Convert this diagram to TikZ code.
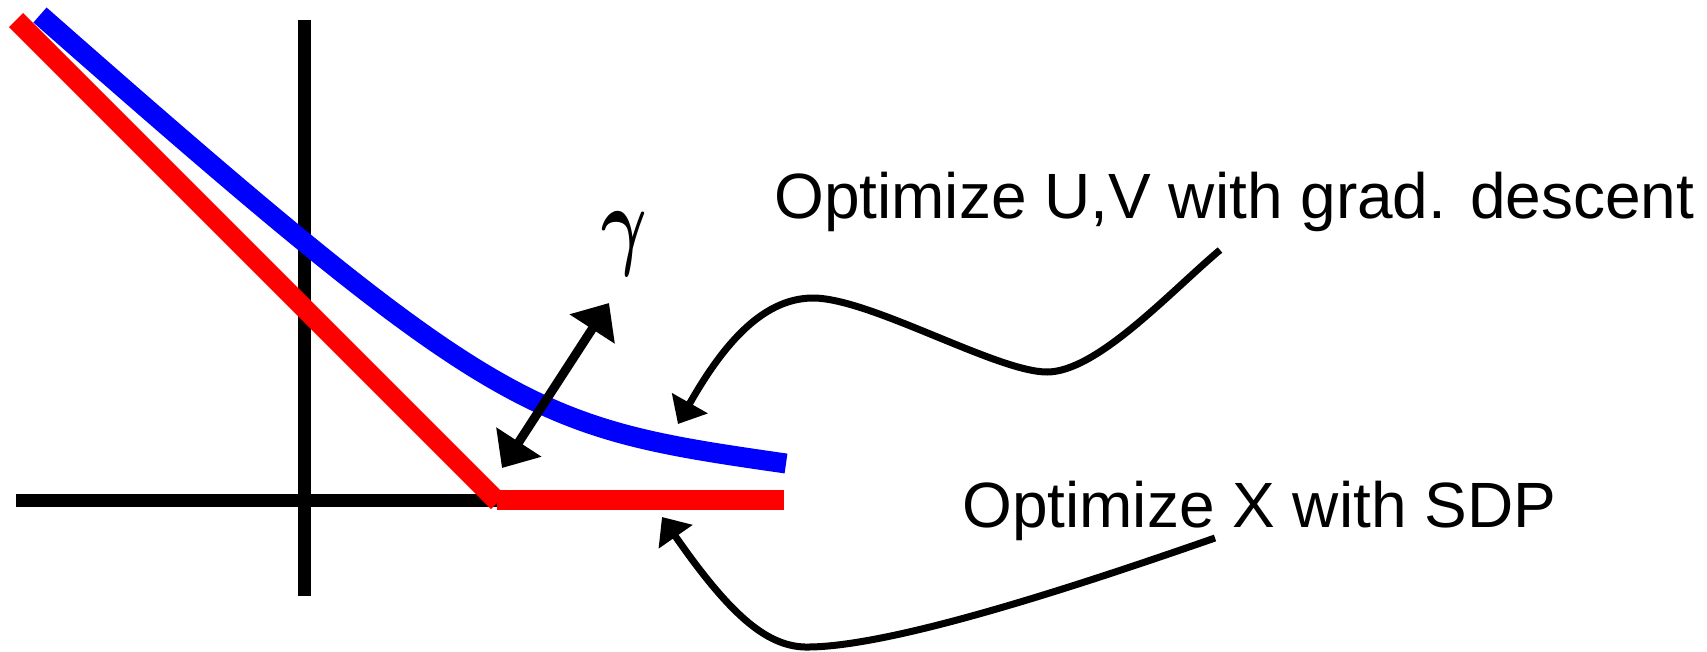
\documentclass[tikz,border=0pt]{standalone}
\usepackage{fontspec}
\setmainfont{Liberation Sans}
\usetikzlibrary{arrows.meta}
\begin{document}
\begin{tikzpicture}[x=1pt,y=-1pt,
  axisline/.style={line width=13pt, black},
  redline/.style={line width=20pt, red},
  blueline/.style={line width=20pt, blue},
  gaparrow/.style={line width=9pt, {Triangle[length=31pt,width=52pt]}-{Triangle[length=31pt,width=52pt]}},
  pointer/.style={line width=7pt, -{Triangle[length=24pt,width=40pt]}},
  lbl/.style={font=\fontsize{64}{70}\selectfont, inner sep=0pt, anchor=base west}]
\useasboundingbox (0,0) rectangle (1707,651);
% axes
\coordinate (yt) at (304,20);
\coordinate (yb) at (304,596);
\coordinate (xl) at (16,500);
\coordinate (xr) at (500,500);
\draw[axisline] (yt) -- (yb);
\draw[axisline] (xl) -- (xr);
% red hinge
\coordinate (r0) at (16,20);
\coordinate (r1) at (498,502);
\coordinate (r2) at (497,500);
\coordinate (r3) at (784,500);
\draw[redline] (r0) -- (r1);
\draw[redline] (r2) -- (r3);
% blue smooth curve
\coordinate (b0) at (40,15);
\coordinate (b1) at (786,463.5);
\draw[blueline] (b0) .. controls (500,420) and (532,427) .. (b1);
% gamma gap arrow
\coordinate (g0) at (502,468);
\coordinate (g1) at (609,303);
\draw[gaparrow] (g0) -- (g1);
\node[inner sep=0pt, anchor=base] (gam) at (624,256) {\scalebox{7.0}[10]{\boldmath$\gamma$}};
% labels
\node[lbl] (uv) at (774,218) {Optimize U,V with grad. descent};
\node[lbl] (xs) at (962,527) {Optimize X with SDP};
% curved pointers
\coordinate (uvs) at (1220,250);
\coordinate (uvt) at (678,424);
\draw[pointer] (uvs) .. controls (1170,292) and (1097,372) .. (1047,372)
  .. controls (997,372) and (870,298) .. (813,298)
  .. controls (760,298) and (720,350) .. (uvt);
\coordinate (xss) at (1215,538);
\coordinate (xst) at (662,517);
\draw[pointer] (xss) .. controls (1080,585) and (890,648) .. (805,647)
  .. controls (765,646) and (728,612) .. (xst);
\end{tikzpicture}
\end{document}
